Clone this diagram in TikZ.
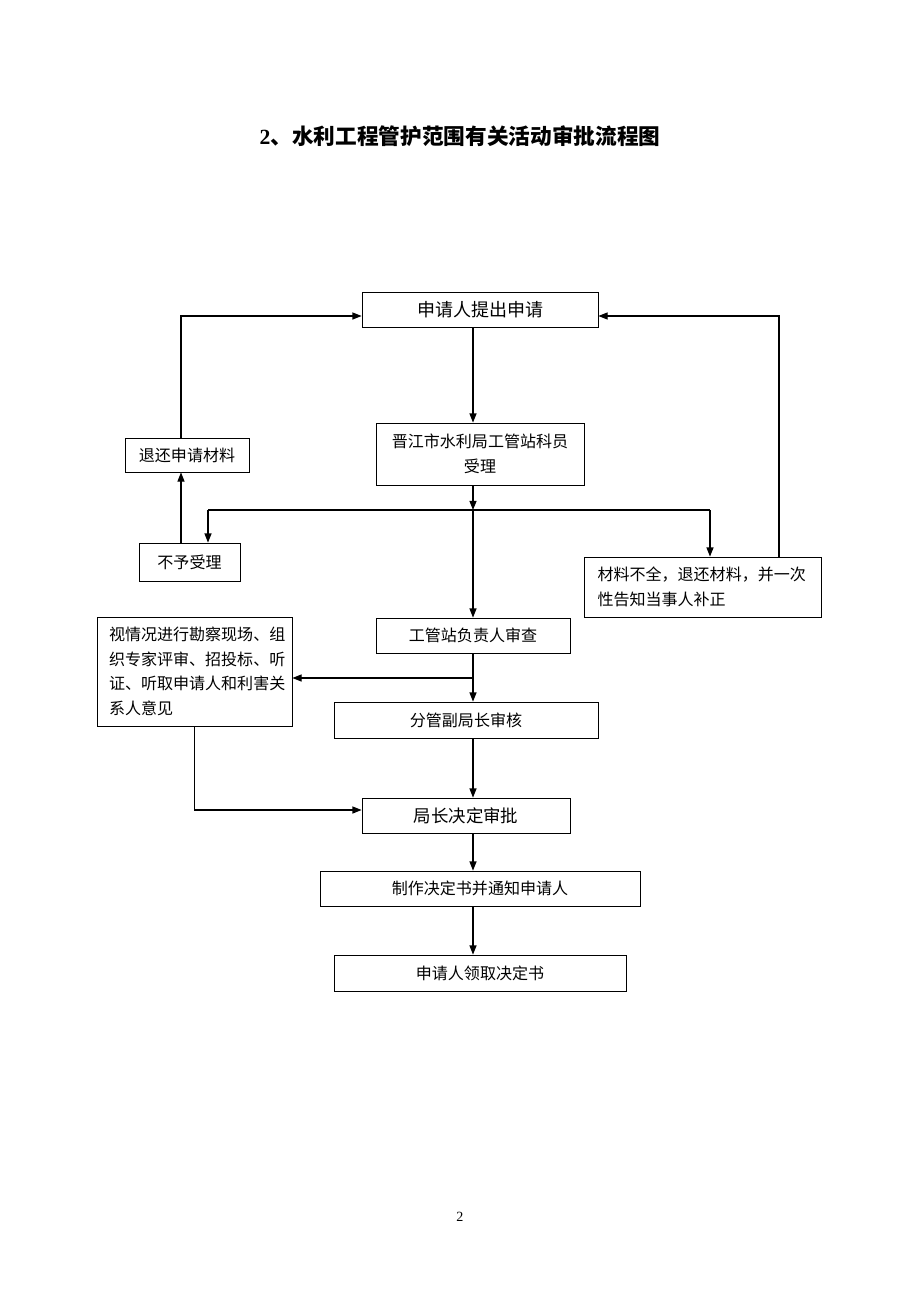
\documentclass[tikz,border=0pt]{standalone}
\usepackage{fontspec}
\usetikzlibrary{arrows.meta}
\newfontfamily\cjk{Noto Sans CJK SC}
\newfontfamily\tnr{Liberation Serif}
\newlength\px
\setlength\px{0.025cm}
\tikzset{
  box/.style = {draw, line width=0.6pt, align=center},
  note/.style = {draw, line width=0.6pt, align=left},
}
\begin{document}
\begin{tikzpicture}[
                  x = 0.025cm,
                  y = -0.025cm,
                  > = {Triangle[length=6.5pt,width=5pt]},
  every node/.style = {inner sep=0pt, font=\cjk\fontsize{11.4}{17.5}\selectfont},
                     ]
    \useasboundingbox (0,0) rectangle (920,1302);
    \node[font=\cjk\bfseries\fontsize{15.4}{18}\selectfont] (title) at (460,136) {{\tnr 2}、水利工程管护范围有关活动审批流程图};
    % boxes
    \node[box, minimum width=236\px, minimum height=35\px, font=\cjk\fontsize{12.8}{16}\selectfont] (apply) at (480,309.5) {申请人提出申请};
    \node[box, minimum width=208\px, minimum height=62\px] (accept) at (480,454) {晋江市水利局工管站科员\\受理};
    \node[box, minimum width=124\px, minimum height=34\px] (giveback) at (187,455) {退还申请材料};
    \node[box, minimum width=101\px, minimum height=38\px] (reject) at (189.5,562) {不予受理};
    \node[note, text width=210\px, inner xsep=13.5\px, minimum height=60\px] (incomplete) at (702.5,587) {材料不全，退还材料，并一次\\性告知当事人补正};
    \node[box, minimum width=194\px, minimum height=35\px] (review) at (473,635.5) {工管站负责人审查};
    \node[note, text width=171\px, inner xsep=12\px, minimum height=109\px] (opinion) at (194.5,671.5) {视情况进行勘察现场、组\\织专家评审、招投标、听\\证、听取申请人和利害关\\系人意见};
    \node[box, minimum width=264\px, minimum height=36\px] (vice) at (466,720) {分管副局长审核};
    \node[box, minimum width=208\px, minimum height=35\px, font=\cjk\fontsize{12.4}{16}\selectfont] (director) at (466,815.5) {局长决定审批};
    \node[box, minimum width=320\px, minimum height=35\px] (notice) at (480,888.5) {制作决定书并通知申请人};
    \node[box, minimum width=292\px, minimum height=36\px] (receive) at (480,973) {申请人领取决定书};
    \node[font=\tnr\fontsize{10}{12}\selectfont] (page) at (460,1217) {2};
    % turning points
    \coordinate (spine) at (473,0);
    \coordinate (fork) at (473,510);
    \coordinate (forkL) at (208,510);
    \coordinate (forkR) at (710,510);
    \coordinate (back) at (181,316);
    \coordinate (resend) at (779,316);
    \coordinate (side) at (473,678);
    \coordinate (join) at (194,810);
    % connectors
    \draw[->, thick] (apply.south -| spine) -- (accept.north -| spine);
    \draw[->, thick] (accept.south -| spine) -- (fork);
    \draw[thick] (forkL) -- (forkR);
    \draw[->, thick] (forkL) -- (reject.north -| forkL);
    \draw[->, thick] (forkR) -- (incomplete.north -| forkR);
    \draw[->, thick] (fork) -- (review.north);
    \draw[->, thick] (reject.north -| back) -- (giveback.south -| back);
    \draw[->, thick] (giveback.north -| back) |- (apply.west |- back);
    \draw[->, thick] (incomplete.north -| resend) |- (apply.east |- resend);
    \draw[->, thick] (review.south) -- (vice.north -| spine);
    \draw[->, thick] (side) -- (opinion.east |- side);
    \draw[->, thick] (opinion.south) |- (director.west |- join);
    \draw[->, thick] (vice.south -| spine) -- (director.north -| spine);
    \draw[->, thick] (director.south -| spine) -- (notice.north -| spine);
    \draw[->, thick] (notice.south -| spine) -- (receive.north -| spine);
\end{tikzpicture}
\end{document}
